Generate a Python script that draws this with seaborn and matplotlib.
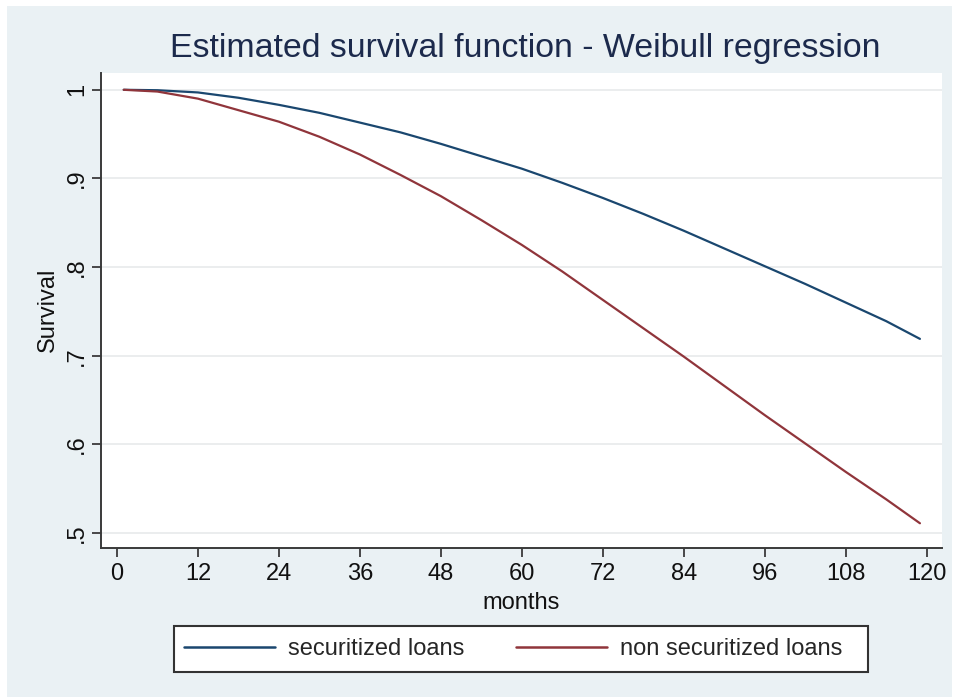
import numpy as np
import pandas as pd
import matplotlib
matplotlib.use("Agg")
import matplotlib.pyplot as plt
from matplotlib.patches import Rectangle
from matplotlib.lines import Line2D
import seaborn as sns

# Estimated Weibull survival by loan type
months = [1, 6, 12, 18, 24, 30, 36, 42, 48, 54, 60, 66, 72, 78, 84, 90, 96, 102, 108, 114, 119]
securitized = [1.000, 0.9995, 0.997, 0.991, 0.983, 0.974, 0.963, 0.952, 0.939, 0.925, 0.911,
               0.895, 0.878, 0.860, 0.841, 0.821, 0.801, 0.781, 0.760, 0.739, 0.719]
non_securitized = [1.000, 0.998, 0.990, 0.977, 0.964, 0.947, 0.927, 0.904, 0.880, 0.853, 0.825,
                   0.795, 0.763, 0.731, 0.699, 0.666, 0.633, 0.601, 0.569, 0.538, 0.511]
series_names = ["securitized loans", "non securitized loans"]
x_ticks = [0, 12, 24, 36, 48, 60, 72, 84, 96, 108, 120]
y_ticks = [0.5, 0.6, 0.7, 0.8, 0.9, 1.0]
y_tick_labels = [".5", ".6", ".7", ".8", ".9", "1"]

df = pd.DataFrame({
    "months": months * 2,
    "Survival": securitized + non_securitized,
    "group": [series_names[0]] * len(months) + [series_names[1]] * len(months),
})

sns.set_theme(style="white")
plt.rcParams["font.family"] = ["Liberation Sans", "DejaVu Sans"]

W, H = 957, 697
fig = plt.figure(figsize=(W / 100, H / 100), dpi=100, facecolor="white")

# light bluish outer panel
fig.patches.append(Rectangle((7 / W, 0), (952 - 7) / W, 1 - 6 / H, transform=fig.transFigure,
                             facecolor="#EAF1F4", edgecolor="none", zorder=-10))

ax = fig.add_axes([101 / W, 1 - 548 / H, (942 - 101) / W, (548 - 72.5) / H])
ax.set_facecolor("white")

palette = {series_names[0]: "#1A476F", series_names[1]: "#90353B"}
sns.lineplot(data=df, x="months", y="Survival", hue="group", palette=palette,
             linewidth=1.6, ax=ax, legend=False)

ax.set_xlim(-2.37, 122.27)
ax.set_ylim(0.4831, 1.0195)
ax.set_xticks(x_ticks)
ax.set_xticklabels([str(t) for t in x_ticks])
ax.set_yticks(y_ticks)
ax.set_yticklabels(y_tick_labels)

ax.grid(axis="y", color="#E9ECED", linewidth=1.3)
ax.grid(axis="x", visible=False)
ax.set_axisbelow(True)

for side in ["top", "right"]:
    ax.spines[side].set_visible(False)
for side in ["left", "bottom"]:
    ax.spines[side].set_color("#3A3A3A")
    ax.spines[side].set_linewidth(1.4)

ax.tick_params(axis="both", which="major", length=6.5, width=1.3, color="#3A3A3A",
               labelsize=17, labelcolor="#111111", left=True, bottom=True)
ax.tick_params(axis="x", pad=4)
ax.tick_params(axis="y", labelrotation=90, pad=3)
for lab in ax.get_yticklabels():
    lab.set_va("center")

ax.set_xlabel("months", fontsize=17, color="#111111", labelpad=5)
ax.set_ylabel("Survival", fontsize=17, color="#111111", labelpad=5)

fig.text(525 / W, 1 - 48 / H, "Estimated survival function - Weibull regression",
         ha="center", va="center", fontsize=24.4, color="#1C2A4C")

# legend box below the axes
fig.patches.append(Rectangle((174 / W, 1 - 672 / H), (868 - 174) / W, (672 - 626) / H,
                             transform=fig.transFigure, facecolor="white",
                             edgecolor="#333333", linewidth=1.5, zorder=5))
handles = [Line2D([], [], color=palette[n], linewidth=1.8) for n in series_names]
leg = fig.legend(handles, series_names, loc="center", bbox_to_anchor=(513 / W, 1 - 649 / H),
                 ncol=2, frameon=False, fontsize=17, handlelength=3.85, handletextpad=0.55,
                 columnspacing=2.2)
leg.set_zorder(6)

fig.savefig("out.png", dpi=100, facecolor="white")
